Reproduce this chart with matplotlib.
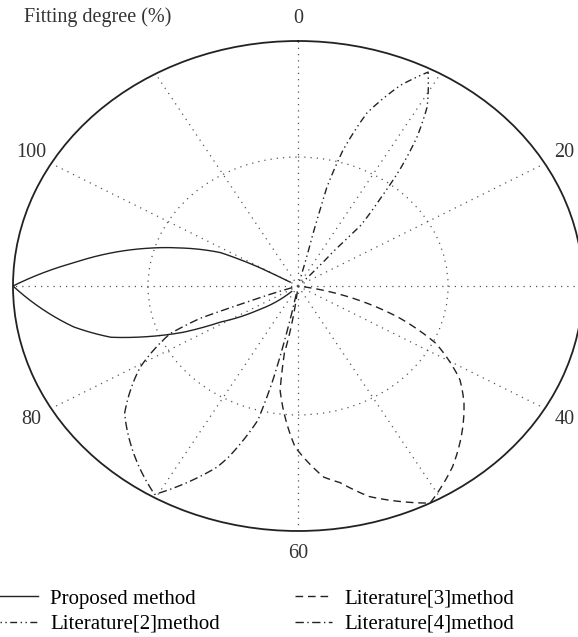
import numpy as np
import matplotlib

matplotlib.use("Agg")
import matplotlib.pyplot as plt

plt.rcParams["font.family"] = ["Liberation Serif", "DejaVu Serif"]

# eje angular en "unidades" 0-120 (vuelta completa), radio = fitting degree (%)
R_MAX = 95
angle_ticks = [0, 20, 40, 60, 80, 100]

prop_theta = [100, 99.7, 98.9, 96.9, 95.4, 92.3, 90.0, 86.0, 84.1, 82.9, 81.6, 80.5, 78.3, 75.0]
prop_r = [3, 15.2, 28.7, 41.7, 52.4, 75.2, 95, 76.4, 65.4, 54.1, 42.0, 29.2, 16.2, 3]

lit2_theta = [15, 14.3, 13.8, 13.9, 13.0, 12.3, 11.5, 10.6, 9.2, 7.9, 6.3, 5.3, 4.7, 4.6, 5]
lit2_r = [2, 7.4, 17.7, 31.2, 43.4, 56.7, 70.0, 81.7, 93.6, 85.0, 70.9, 54.8, 39.6, 21.2, 2]

lit3_theta = [33.0, 36.7, 38.6, 41.3, 43.1, 47.9, 50.8, 54.6, 56.5, 57.8, 60.3, 62.8, 63.3, 62.0]
lit3_r = [2, 36, 51, 65, 71.5, 87, 95, 85, 77.6, 74.6, 62.4, 40.8, 26.4, 2]

lit4_theta = [84, 83.3, 83.0, 82.2, 79.7, 76.5, 73.4, 72.1, 70.2, 69.0, 67.0, 66.4, 64.8, 64.3, 63.9, 63.5]
lit4_r = [2, 17.1, 34.9, 46.4, 61.3, 76.0, 84.9, 88.6, 93.9, 86.9, 75.2, 70.2, 53.7, 37.4, 17.5, 2]

FS = 14.5


def to_rad(units):
    return np.deg2rad(np.asarray(units) * 3.0)


fig = plt.figure(figsize=(5.78, 6.37), dpi=100)
ax = fig.add_axes([13 / 578, 106 / 637, 570 / 578, 490 / 637], projection="polar")
ax.set_aspect("auto")
ax.set_theta_zero_location("N")
ax.set_theta_direction(-1)

lw = 1.0
series = [
    (prop_theta, prop_r, "-", "Proposed method"),
    (lit2_theta, lit2_r, (0, (1, 2.5, 1, 2.5, 5, 2.5)), "Literature[2]method"),
    (lit3_theta, lit3_r, (0, (5.5, 3.5)), "Literature[3]method"),
    (lit4_theta, lit4_r, (0, (6, 2.5, 1, 2.5)), "Literature[4]method"),
]
for th, r, ls, lab in series:
    ln, = ax.plot(to_rad(th), r, color="#222222", lw=lw, ls=ls, label=lab)
    # que los tramos se curven en el plano polar (recta en theta-r)
    ln.recache()
    ln.get_path()._interpolation_steps = 60

ax.set_rlim(0, R_MAX)
ax.set_rgrids([50], labels=[""])
grid_deg = np.arange(0, 360, 30)
grid_lab = [str(angle_ticks[i // 2]) if i % 2 == 0 else "" for i in range(len(grid_deg))]
ax.set_thetagrids(grid_deg, grid_lab, fontsize=FS, color="#333333")
ax.tick_params(axis="x", pad=6)
ax.grid(True, color="#555555", lw=0.9, ls=(0, (1, 4)))
ax.spines["polar"].set_linewidth(1.3)
ax.spines["polar"].set_color("#222222")

fig.text(24 / 578, 1 - 17 / 637, "Fitting degree (%)", fontsize=FS,
         color="#333333", ha="left", va="center")

fig.legend(loc="upper left", bbox_to_anchor=(0.0, 1 - 589 / 637), ncol=2,
           frameon=False, fontsize=15, handlelength=1.8, handletextpad=0.6,
           columnspacing=3.6, labelspacing=0.28, borderaxespad=0, borderpad=0)

fig.savefig("out.png", dpi=100)
